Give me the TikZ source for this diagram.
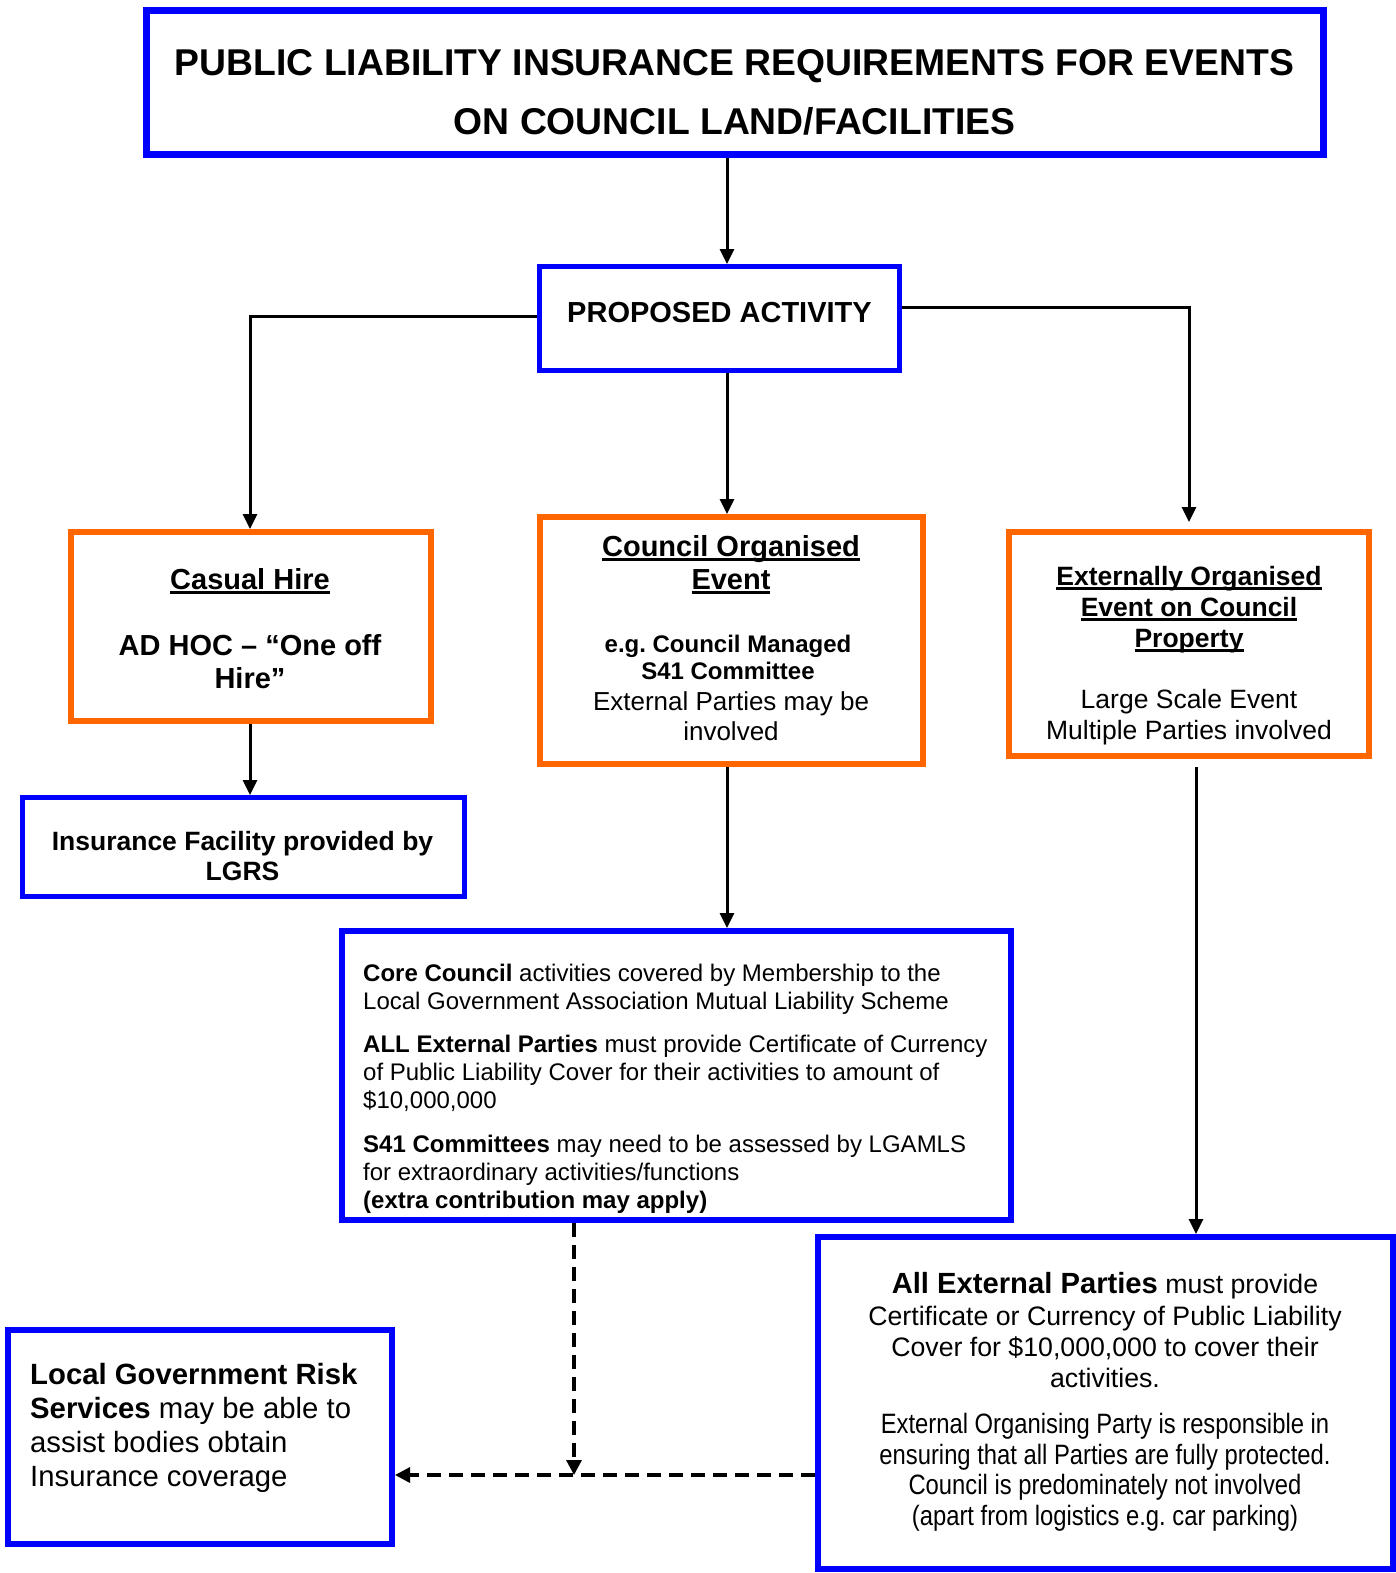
\documentclass[tikz,border=0pt]{standalone}
\usepackage{fontspec}
\setmainfont{Liberation Sans}
\newfontfamily\narrowfont[FakeStretch=0.85]{Liberation Sans}
\usetikzlibrary{arrows.meta,calc}
\definecolor{bblue}{HTML}{0000FF}
\definecolor{borange}{HTML}{FF6600}
\newsavebox\ulbox
\newcommand\myul[1]{\sbox\ulbox{#1}\rlap{\rule[-4.5pt]{\wd\ulbox}{2.8pt}}\usebox\ulbox}
\newcommand\fs[2]{\fontsize{#1pt}{#2pt}\selectfont}
\frenchspacing
\begin{document}
\begin{tikzpicture}[x=1pt,y=-1pt,
  bluebox/.style={draw=bblue,line width=6pt,inner sep=0pt},
  orangebox/.style={draw=borange,line width=6pt,inner sep=0pt},
  txt/.style={inner sep=0pt,align=center,anchor=base},
  ltxt/.style={inner sep=0pt,align=left,anchor=base west},
  arr/.style={line width=3pt,-{Triangle[length=15pt,width=14pt]}},
  dasharr/.style={line width=3.2pt,dash pattern=on 14pt off 8pt,-{Triangle[length=15pt,width=15pt]}}]
\useasboundingbox (0,0) rectangle (1396,1573);
% boxes
\node[bluebox,line width=7pt,minimum width=1177pt,minimum height=144pt] (title) at (734.5,82.5) {};
\node[bluebox,line width=5pt,minimum width=360pt,minimum height=104pt] (prop) at (719.5,318.5) {};
\node[orangebox,minimum width=360pt,minimum height=189pt] (casual) at (251,626.5) {};
\node[bluebox,line width=5pt,minimum width=442pt,minimum height=99pt] (insurance) at (243.5,847) {};
\node[orangebox,minimum width=383pt,minimum height=247pt] (council) at (731.5,640.5) {};
\node[orangebox,minimum width=360pt,minimum height=224pt] (ext) at (1189,644) {};
\node[bluebox,minimum width=669pt,minimum height=289pt] (big) at (676.5,1075.5) {};
\node[bluebox,minimum width=384pt,minimum height=214pt] (lgrs) at (200,1437) {};
\node[bluebox,minimum width=575pt,minimum height=332pt] (br) at (1105.5,1403) {};
% texts (anchor = baseline of the last line)
\node[txt,font={\fs{37.3}{59}\bfseries}] (titletxt) at (734.5,134.5) {PUBLIC LIABILITY INSURANCE REQUIREMENTS FOR EVENTS\\ON COUNCIL LAND/FACILITIES};
\node[txt,font={\fs{29}{33}\bfseries}] (proptxt) at (719.5,322.4) {PROPOSED ACTIVITY};
\node[txt,font={\fs{29}{33.2}\bfseries}] (casualtxt) at (250,688.6) {\myul{Casual Hire}\\[33.2pt]AD HOC – “One off\\Hire”};
\node[txt,font={\fs{26.5}{30}\bfseries}] (insurancetxt) at (242.5,880) {Insurance Facility provided by\\LGRS};
\node[txt,font={\fs{29}{33}\bfseries}] (counciltitle) at (731,589) {\myul{Council Organised}\\\myul{Event}};
\node[txt,font={\fs{24}{27}\bfseries}] (councileg) at (728,679.6) {e.g. Council Managed\\S41 Committee};
\node[txt,font={\fs{26}{30}}] (councilext) at (731,740.5) {External Parties may be\\involved};
\node[txt,font={\fs{26.5}{31}\bfseries}] (exttitle) at (1189,647.2) {\myul{Externally Organised}\\\myul{Event on Council}\\\myul{Property}};
\node[txt,font={\fs{26.5}{31}}] (extbody) at (1189,739.6) {Large Scale Event\\Multiple Parties involved};
\node[ltxt,font={\fs{24}{28.1}}] (bigtxt) at (363,1208.2) {\textbf{Core Council} activities covered by Membership to the\\Local Government Association Mutual Liability Scheme\\[15pt]\textbf{ALL External Parties} must provide Certificate of Currency\\of Public Liability Cover for their activities to amount of\\\$10,000,000\\[15pt]\textbf{S41 Committees} may need to be assessed by LGAMLS\\for extraordinary activities/functions\\\textbf{(extra contribution may apply)}};
\node[ltxt,font={\fs{29.3}{34.1}}] (lgrstxt) at (30,1486.7) {\textbf{Local Government Risk}\\\textbf{Services} may be able to\\assist bodies obtain\\Insurance coverage};
\node[txt,font={\fs{26.7}{31.1}}] (brtxt) at (1105,1387.2) {{\fontsize{29.2pt}{31.1pt}\selectfont\bfseries All External Parties} must provide\\Certificate or Currency of Public Liability\\Cover for \$10,000,000 to cover their\\activities.};
\node[txt,font={\narrowfont\fs{28}{30.7}}] (brtxt2) at (1105,1525.5) {External Organising Party is responsible in\\ensuring that all Parties are fully protected.\\Council is predominately not involved\\(apart from logistics e.g. car parking)};
% connectors
\draw[arr] ([xshift=-7.5pt]title.south) -- ([xshift=7.5pt]prop.north);
\draw[arr] ([yshift=2.5pt]prop.west) -| ([xshift=-1pt]casual.north);
\draw[arr] ([yshift=11.5pt]prop.east) -| ([yshift=7pt]ext.north);
\draw[arr] ([xshift=7.5pt]prop.south) -- ([xshift=-4.5pt]council.north);
\draw[arr] ([xshift=-1pt]casual.south) -- ([xshift=-1pt]casual.south |- insurance.north);
\draw[arr] ([xshift=-4.5pt]council.south) -- ([xshift=-4.5pt]council.south |- big.north);
\draw[arr] ([xshift=7pt,yshift=-8pt]ext.south) -- ([xshift=7pt]ext.south |- br.north);
\coordinate (j) at (574,1475);
\draw[dasharr] (big.south -| j) -- (j);
\draw[dasharr] (br.west |- j) -- (lgrs.east |- j);
\end{tikzpicture}
\end{document}
